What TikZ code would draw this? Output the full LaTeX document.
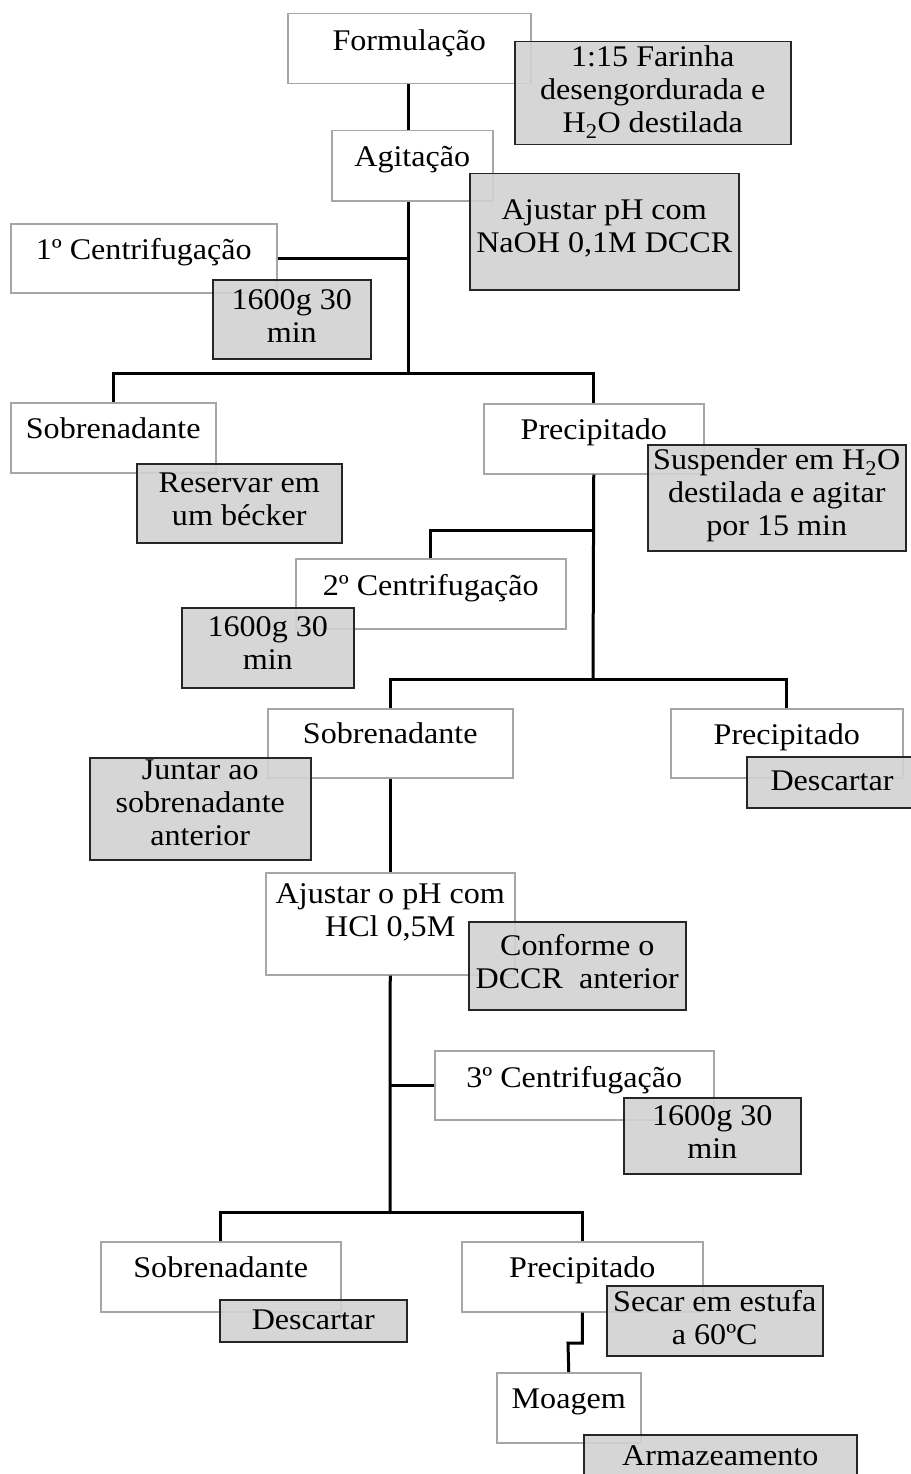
\documentclass[tikz,border=0pt]{standalone}
\usepackage{fontspec}
\setmainfont{Liberation Serif}[FakeStretch=1.07]
\usepackage{tikz}

\begin{document}
\begin{tikzpicture}[x=1pt,y=-1pt,
	wbox/.style={draw=gray!70,line width=1.5pt,fill=white,inner sep=0pt,anchor=north west},
	gbox/.style={draw=black!85,line width=1.5pt,fill=gray!35,fill opacity=0.9,inner sep=0pt,anchor=north west},
	txt/.style={anchor=north,yshift=23.1pt,align=center,inner sep=0pt,font=\fontsize{30}{33}\selectfont,execute at begin node=\strut},
	link/.style={line width=3pt}]
		\useasboundingbox (0,0) rectangle (910,1474);
		\node[wbox,minimum width=243pt,minimum height=70pt] (form) at (287,13) {};
		\node[wbox,minimum width=161pt,minimum height=70pt] (agit) at (331,130) {};
		\node[wbox,minimum width=266pt,minimum height=69pt] (cent1) at (10,223) {};
		\node[wbox,minimum width=205pt,minimum height=70pt] (sobr1) at (10,402) {};
		\node[wbox,minimum width=220pt,minimum height=70pt] (prec1) at (483,403) {};
		\node[wbox,minimum width=270pt,minimum height=70pt] (cent2) at (295,558) {};
		\node[wbox,minimum width=245pt,minimum height=69pt] (sobr2) at (267,708) {};
		\node[wbox,minimum width=232pt,minimum height=69pt] (prec2) at (670,708) {};
		\node[wbox,minimum width=249pt,minimum height=102pt] (ajus) at (265,872) {};
		\node[wbox,minimum width=279pt,minimum height=69pt] (cent3) at (434,1050) {};
		\node[wbox,minimum width=240pt,minimum height=70pt] (sobr3) at (100,1241) {};
		\node[wbox,minimum width=241pt,minimum height=70pt] (prec3) at (461,1241) {};
		\node[wbox,minimum width=144pt,minimum height=70pt] (moag) at (496,1372) {};

		\node[gbox,minimum width=276pt,minimum height=103pt] (farinha) at (514,41) {};
		\node[gbox,minimum width=269pt,minimum height=116pt] (naoh) at (469,173) {};
		\node[gbox,minimum width=158pt,minimum height=79pt] (rot1) at (212,279) {};
		\node[gbox,minimum width=205pt,minimum height=79pt] (reserv) at (136,463) {};
		\node[gbox,minimum width=258pt,minimum height=106pt] (susp) at (647,444) {};
		\node[gbox,minimum width=172pt,minimum height=80pt] (rot2) at (181,607) {};
		\node[gbox,minimum width=221pt,minimum height=102pt] (juntar) at (89,757) {};
		\node[gbox,minimum width=166pt,minimum height=51pt] (desc2) at (746,756) {};
		\node[gbox,minimum width=217pt,minimum height=88pt] (conf) at (468,921) {};
		\node[gbox,minimum width=177pt,minimum height=76pt] (rot3) at (623,1097) {};
		\node[gbox,minimum width=187pt,minimum height=42pt] (desc3) at (219,1299) {};
		\node[gbox,minimum width=216pt,minimum height=70pt] (secar) at (606,1285) {};
		\node[gbox,minimum width=273pt,minimum height=46pt] (armaz) at (583,1434) {};

		\coordinate (b1) at (408,373);
		\coordinate (b2) at (593,679);
		\coordinate (b3) at (390,1212);
		\coordinate (j2) at (593,530);
		\coordinate (k) at (568,1343);
		\draw[link] (form.south -| b1) -- (agit.north -| b1);
		\draw[link] (agit.south -| b1) -- (b1);
		\draw[link] (cent1.east) -- (cent1.east -| b1);
		\draw[link] (sobr1.north) |- (b1) -| (prec1.north);
		\draw[link] (prec1.south) -- (b2);
		\draw[link] (cent2.north) |- (j2);
		\draw[link] (sobr2.north) |- (b2) -| (prec2.north);
		\draw[link] (sobr2.south) -- (ajus.north);
		\draw[link] (ajus.south) -- (b3);
		\draw[link] (cent3.west) -- (cent3.west -| b3);
		\draw[link] (sobr3.north) |- (b3) -| (prec3.north);
		\draw[link] (prec3.south) |- (k) -- (moag.north);

		\node[txt] (tform) at (form.north |- 0,50) {Formulação};
		\node[txt] (tagit) at (agit.north |- 0,166) {Agitação};
		\node[txt] (tcent1) at (cent1.north |- 0,259) {1º Centrifugação};
		\node[txt] (tsobr1) at (sobr1.north |- 0,438) {Sobrenadante};
		\node[txt] (tprec1) at (prec1.north |- 0,439) {Precipitado};
		\node[txt] (tcent2) at (cent2.north |- 0,595) {2º Centrifugação};
		\node[txt] (tsobr2) at (sobr2.north |- 0,743) {Sobrenadante};
		\node[txt] (tprec2) at (prec2.north |- 0,744) {Precipitado};
		\node[txt] (tajus) at (ajus.north |- 0,907) {Ajustar o pH com\\HCl 0,5M};
		\node[txt] (tcent3) at (cent3.north |- 0,1087) {3º Centrifugação};
		\node[txt] (tsobr3) at (sobr3.north |- 0,1277) {Sobrenadante};
		\node[txt] (tprec3) at (prec3.north |- 0,1277) {Precipitado};
		\node[txt] (tmoag) at (moag.north |- 0,1408) {Moagem};

		\node[txt] (tfarinha) at (farinha.north |- 0,69) {1:15 Farinha\\desengordurada e\\H\textsubscript{2}O destilada};
		\node[txt] (tnaoh) at (naoh.north |- 0,223) {Ajustar pH com\\NaOH 0,1M DCCR};
		\node[txt] (trot1) at (rot1.north |- 0,312) {1600g 30\\min};
		\node[txt] (treserv) at (reserv.north |- 0,496) {Reservar em\\um bécker};
		\node[txt] (tsusp) at (susp.north |- 0,472) {Suspender em H\textsubscript{2}O\\destilada e agitar\\por 15 min};
		\node[txt] (trot2) at (rot2.north |- 0,639) {1600g 30\\min};
		\node[txt] (tjuntar) at (juntar.north |- 0,783) {Juntar ao\\sobrenadante\\anterior};
		\node[txt] (tdesc2) at (832,790) {Descartar};
		\node[txt] (tconf) at (conf.north |- 0,957) {Conforme o\\DCCR\ \ anterior};
		\node[txt] (trot3) at (rot3.north |- 0,1128) {1600g 30\\min};
		\node[txt] (tdesc3) at (desc3.north |- 0,1329) {Descartar};
		\node[txt] (tsecar) at (secar.north |- 0,1313) {Secar em estufa\\a 60ºC};
		\node[txt] (tarmaz) at (armaz.north |- 0,1465) {Armazeamento};
	\end{tikzpicture}
\end{document}
